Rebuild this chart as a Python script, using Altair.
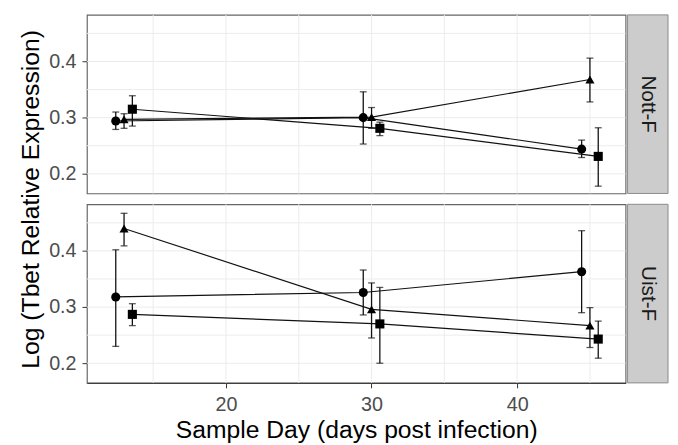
import altair as alt
import pandas as pd

# ---- data ----
days = [13, 30, 45]
panels = ["Nott-F", "Uist-F"]
groups = ["circle", "triangle", "square"]

nott_circle_mean = [0.294, 0.300, 0.244]
nott_circle_lo = [0.279, 0.253, 0.229]
nott_circle_hi = [0.310, 0.346, 0.260]
nott_triangle_mean = [0.297, 0.301, 0.368]
nott_triangle_lo = [0.281, 0.281, 0.328]
nott_triangle_hi = [0.307, 0.318, 0.406]
nott_square_mean = [0.315, 0.281, 0.231]
nott_square_lo = [0.285, 0.268, 0.178]
nott_square_hi = [0.339, 0.292, 0.282]

uist_circle_mean = [0.318, 0.326, 0.363]
uist_circle_lo = [0.230, 0.286, 0.290]
uist_circle_hi = [0.402, 0.366, 0.436]
uist_triangle_mean = [0.440, 0.296, 0.267]
uist_triangle_lo = [0.409, 0.245, 0.228]
uist_triangle_hi = [0.467, 0.343, 0.299]
uist_square_mean = [0.287, 0.270, 0.243]
uist_square_lo = [0.267, 0.200, 0.209]
uist_square_hi = [0.306, 0.335, 0.275]

y_ticks = [0.2, 0.3, 0.4]
x_ticks = [20, 30, 40]
y_grid = [0.2, 0.25, 0.3, 0.35, 0.4, 0.45]
x_grid = [15, 20, 25, 30, 35, 40, 45]

table = {
    "Nott-F": {
        "circle": (nott_circle_mean, nott_circle_lo, nott_circle_hi),
        "triangle": (nott_triangle_mean, nott_triangle_lo, nott_triangle_hi),
        "square": (nott_square_mean, nott_square_lo, nott_square_hi),
    },
    "Uist-F": {
        "circle": (uist_circle_mean, uist_circle_lo, uist_circle_hi),
        "triangle": (uist_triangle_mean, uist_triangle_lo, uist_triangle_hi),
        "square": (uist_square_mean, uist_square_lo, uist_square_hi),
    },
}

rows = []
for p in panels:
    for g in groups:
        m, lo, hi = table[p][g]
        for i, d in enumerate(days):
            rows.append({"panel": p, "group": g, "day": d,
                         "mean": m[i], "lo": lo[i], "hi": hi[i]})
df = pd.DataFrame(rows)

W, H = 546, 181
FONT = "Liberation Sans"

xscale = alt.Scale(domain=[10.45, 47.45], nice=False, zero=False)
yscale = alt.Scale(domain=[0.165, 0.483], nice=False, zero=False)
shape_scale = alt.Scale(domain=groups, range=["circle", "triangle-up", "square"])

dodge_expr = ("datum.day + (datum.group == 'circle' ? -0.57 : "
              "(datum.group == 'square' ? 0.57 : 0))")


def panel(name, bottom, top):
    d = df[df.panel == name]
    base = alt.Chart(d).transform_calculate(xd=dodge_expr)

    if bottom:
        xaxis = alt.Axis(values=x_ticks, format="d", tickSize=5, tickColor="#333",
                         domain=True, domainColor="#333", grid=False,
                         labelFontSize=20, labelColor="#4d4d4d", labelPadding=7,
                         labelFont=FONT, title="Sample Day (days post infection)",
                         titleFont=FONT, titleFontSize=25, titleFontWeight="normal",
                         titleColor="#000", titlePadding=3)
    else:
        xaxis = alt.Axis(values=x_ticks, labels=False, ticks=False, domain=False,
                         grid=False, title=None)
    yaxis = alt.Axis(values=y_ticks, format=".1f", tickSize=5, tickColor="#333",
                     domain=False, grid=False, labelFontSize=20,
                     labelColor="#4d4d4d", labelPadding=6, labelFont=FONT,
                     title="Log (Tbet Relative Expression)" if top else None,
                     titleFont=FONT, titleFontSize=25, titleFontWeight="normal",
                     titleColor="#000", titlePadding=5, titleY=H + 5.5)

    def X(f):
        return alt.X(f, scale=xscale, axis=xaxis)

    def Y(f):
        return alt.Y(f, scale=yscale, axis=yaxis)

    xgrid = alt.Chart(pd.DataFrame({"gx": x_grid})).mark_rule(
        color="#ececec", strokeWidth=1).encode(x=X("gx:Q"))
    ygrid = alt.Chart(pd.DataFrame({"gy": y_grid})).mark_rule(
        color="#ececec", strokeWidth=1).encode(y=Y("gy:Q"))

    err = base.mark_rule(color="#111", strokeWidth=1.3).encode(
        x=X("xd:Q"), y=Y("lo:Q"), y2="hi:Q")
    cap_lo = base.mark_tick(color="#111", orient="horizontal", size=7,
                            thickness=1.3).encode(x=X("xd:Q"), y=Y("lo:Q"))
    cap_hi = base.mark_tick(color="#111", orient="horizontal", size=7,
                            thickness=1.3).encode(x=X("xd:Q"), y=Y("hi:Q"))
    line = base.mark_line(color="#111", strokeWidth=1.2).encode(
        x=X("xd:Q"), y=Y("mean:Q"), detail="group:N", order="xd:Q")
    pts = base.mark_point(filled=True, color="#000", opacity=1).encode(
        x=X("xd:Q"), y=Y("mean:Q"),
        shape=alt.Shape("group:N", scale=shape_scale, legend=None),
        size=alt.value(85),
    )
    lab = pd.DataFrame({"label": [name]})
    strip = alt.Chart(lab).mark_rect(fill="#cccccc", stroke="#8a8a8a",
                                     strokeWidth=1).encode(
        x=alt.value(W + 2), x2=alt.value(W + 43),
        y=alt.value(0), y2=alt.value(H))
    strip_txt = alt.Chart(lab).mark_text(angle=90, font=FONT, fontSize=21,
                                         color="#1a1a1a", align="center",
                                         baseline="middle").encode(
        text="label:N", x=alt.value(W + 22.5), y=alt.value(H / 2))

    return alt.layer(xgrid, ygrid, err, cap_lo, cap_hi, line, pts,
                     strip, strip_txt).properties(width=W, height=H)


chart = alt.vconcat(
    panel("Nott-F", bottom=False, top=True),
    panel("Uist-F", bottom=True, top=False),
    spacing=11, bounds="flush",
).properties(
    padding={"left": 10, "top": 2, "right": 0, "bottom": 0},
    background="white",
).configure_view(stroke="#666", strokeWidth=1.2)

chart.save("out.html", embed_options={"renderer": "svg", "actions": False})
